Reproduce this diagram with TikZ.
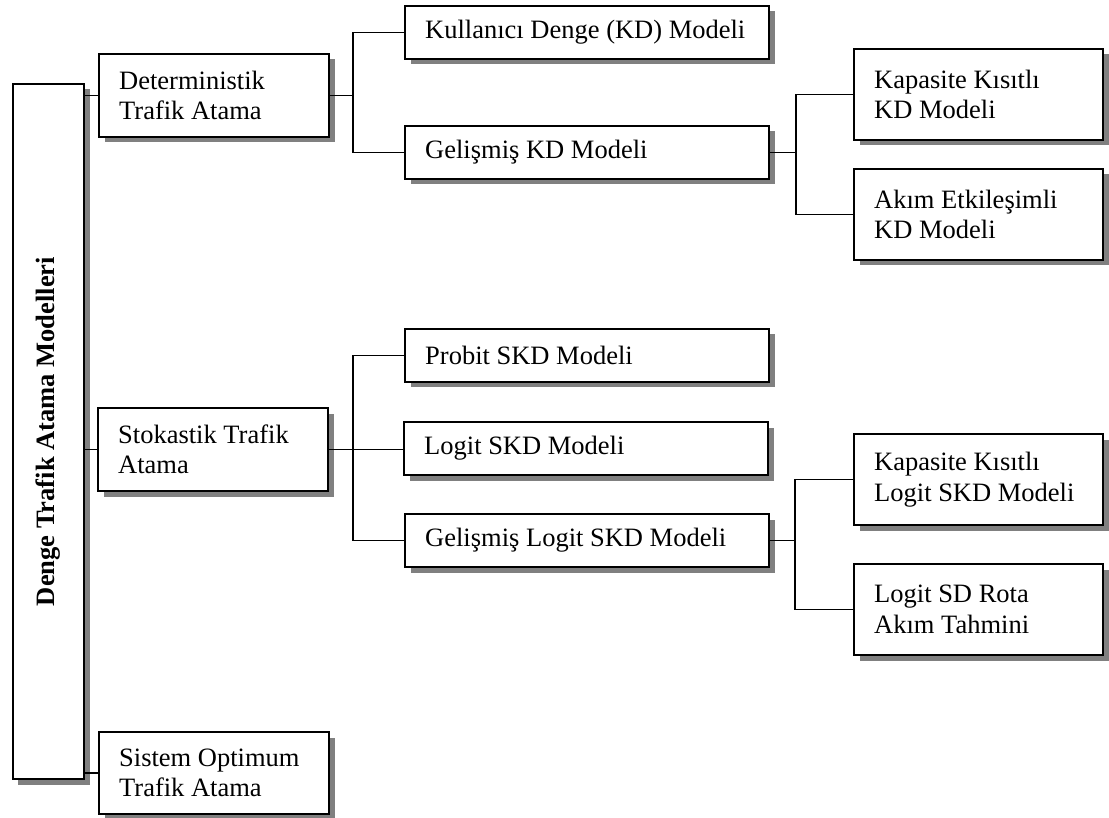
\documentclass[tikz,border=0pt]{standalone}
\usepackage{fontspec}
\setmainfont{Liberation Serif}
\usetikzlibrary{shadows}
\definecolor{shadowgray}{RGB}{128,128,128}
\tikzset{
  boxshadow/.style={drop shadow={fill=shadowgray, opacity=1, shadow xshift=5.5pt, shadow yshift=-5.5pt}},
  modelbox/.style={draw, line width=2pt, fill=white, boxshadow, anchor=north west, inner sep=0pt},
  boxtext/.style={anchor=west, xshift=21pt, inner sep=0pt, align=left,
    font=\fontsize{26.5}{30.5}\selectfont},
  leftbox/.style={modelbox, minimum width=230pt, minimum height=83pt},
  midbox/.style={modelbox, minimum width=364pt, minimum height=53pt},
  rightbox/.style={modelbox, minimum width=249pt, minimum height=91pt},
  link/.style={draw, line width=1.5pt},
}
\begin{document}
\begin{tikzpicture}[x=1pt,y=-1pt]
\useasboundingbox (0,0) rectangle (1109,818);

% root of the tree
\node[draw, line width=2pt, fill=white, boxshadow, anchor=north west,
      minimum width=71.5pt, minimum height=695pt, inner sep=0pt,
      font=\fontsize{26.5}{30.5}\selectfont\bfseries] (root) at (11.5,83)
      {\rotatebox{90}{Denge Trafik Atama Modelleri}};

% first level
\node[leftbox, label={[boxtext]west:Deterministik\\Trafik Atama}] (det) at (98,53) {};
\node[leftbox, label={[boxtext]west:Stokastik Trafik\\Atama}] (sto) at (97,407) {};
\node[leftbox, minimum height=82pt, label={[boxtext]west:Sistem Optimum\\Trafik Atama}] (sys) at (98,731) {};

% second level
\node[midbox, label={[boxtext]west:Kullanıcı Denge (KD) Modeli}] (kd) at (404,5) {};
\node[midbox, label={[boxtext]west:Gelişmiş KD Modeli}] (gkd) at (404,125) {};
\node[midbox, label={[boxtext]west:Probit SKD Modeli}] (prb) at (404,328) {};
\node[midbox, label={[boxtext]west:Logit SKD Modeli}] (lgt) at (403,421) {};
\node[midbox, label={[boxtext]west:Gelişmiş Logit SKD Modeli}] (glgt) at (404,513) {};

% third level
\node[rightbox, label={[boxtext]west:Kapasite Kısıtlı\\KD Modeli}] (kkd) at (853,48) {};
\node[rightbox, label={[boxtext]west:Akım Etkileşimli\\KD Modeli}] (akd) at (853,168) {};
\node[rightbox, label={[boxtext]west:Kapasite Kısıtlı\\Logit SKD Modeli}] (klgt) at (853,433) {};
\node[rightbox, label={[boxtext]west:Logit SD Rota\\Akım Tahmini}] (rota) at (853,563) {};

% root to first level
\path[link] (det.west) -- (det.west -| root.east);
\path[link] (sto.west) -- (sto.west -| root.east);
\path[link] (sys.west) -- (sys.west -| root.east);

% Deterministik branch
\coordinate (j1) at ([xshift=23pt]det.east);
\path[link] (det.east) -- (j1);
\path[link] (kd.west) -| (j1) |- (gkd.west);

% Gelişmiş KD branch
\coordinate (j2) at ([xshift=26pt]gkd.east);
\path[link] (gkd.east) -- (j2);
\path[link] (kkd.west) -| (j2) |- (akd.west);

% Stokastik branch
\coordinate (j3) at ([xshift=24pt]sto.east);
\path[link] (sto.east) -- (sto.east -| lgt.west);
\path[link] (prb.west) -| (j3) |- (glgt.west);

% Gelişmiş Logit branch
\coordinate (j4) at ([xshift=25pt]glgt.east);
\path[link] (glgt.east) -- (j4);
\path[link] (klgt.west) -| (j4) |- (rota.west);
\end{tikzpicture}
\end{document}
